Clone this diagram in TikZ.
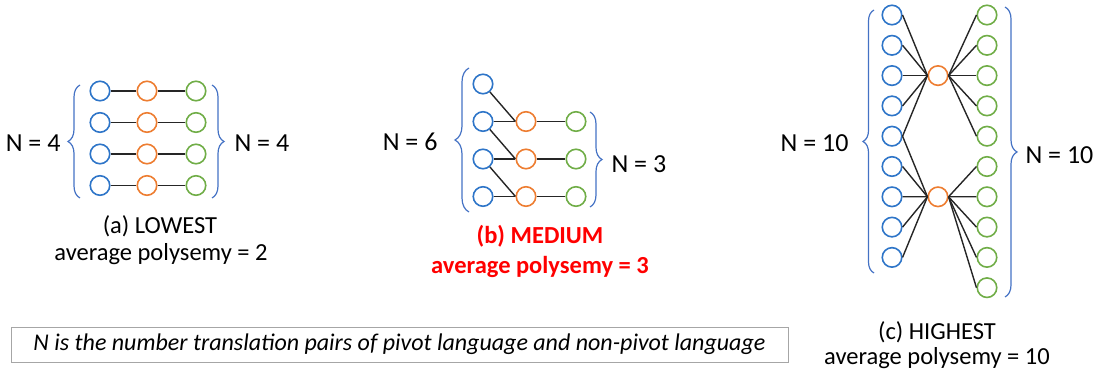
\documentclass[tikz,border=0pt]{standalone}
\usepackage{fontspec}
\setmainfont{Carlito}
\usepackage{xcolor}
\usetikzlibrary{decorations.pathreplacing}
\definecolor{pv_blue}{RGB}{46, 117, 200}
\definecolor{pv_orange}{RGB}{237, 125, 49}
\definecolor{pv_green}{RGB}{112, 173, 71}
\definecolor{pv_brace}{RGB}{68, 114, 196}
\definecolor{pv_red}{RGB}{255, 0, 0}
\begin{document}
\begin{tikzpicture}[
        x=1pt, y=-1pt,
        word/.style={circle, line width=1.6pt, minimum size=19.5pt, inner sep=0pt},
        src/.style={word, draw=pv_blue},
        piv/.style={word, draw=pv_orange},
        tgt/.style={word, draw=pv_green},
        link/.style={draw=black!85, line width=1.4pt},
        brc/.style={decorate, decoration={brace, amplitude=#1},
                    draw=pv_brace, line width=1.2pt},
        lbl/.style={font=\fontsize{26}{30}\selectfont},
        subcap/.style={font=\fontsize{24.5}{28}\selectfont},
      ]
        \useasboundingbox (0,0) rectangle (1098,379);
        % (a) lowest
        \foreach \i/\y in {1/91, 2/122.5, 3/154, 4/185.5} {
          \node[src] (a-s\i) at (100,\y) {};
          \node[piv] (a-p\i) at (147,\y) {};
          \node[tgt] (a-t\i) at (196,\y) {};
          \draw[link] (a-s\i) -- (a-p\i) -- (a-t\i);
        }
        \draw[brc=12pt] (80,198) -- (80,85);
        \draw[brc=12pt] (212,85) -- (212,198);
        \node[lbl, anchor=east] (a-nl) at (64,143) {N = 4};
        \node[lbl, anchor=west] (a-nr) at (231,143) {N = 4};
        \node[subcap] (a-c1) at (160,226) {(a) LOWEST};
        \node[subcap] (a-c2) at (161,254) {average polysemy = 2};
        % (b) medium
        \foreach \i/\y in {1/84, 2/121.5, 3/159, 4/196.5}
          \node[src] (b-s\i) at (483,\y) {};
        \foreach \i/\y in {1/121.5, 2/159, 3/196.5} {
          \node[piv] (b-p\i) at (526,\y) {};
          \node[tgt] (b-t\i) at (576,\y) {};
          \draw[link] (b-p\i) -- (b-t\i);
        }
        \draw[link] (b-s1) -- (b-p1.west);
        \draw[link] (b-s2) -- (b-p1.west);
        \draw[link] (b-s2) -- (b-p2.west);
        \draw[link] (b-s3) -- (b-p2.west);
        \draw[link] (b-s3) -- (b-p3.west);
        \draw[link] (b-s4) -- (b-p3.west);
        \draw[brc=14pt] (469,212) -- (469,68);
        \draw[brc=12pt] (590,112) -- (590,207);
        \node[lbl, anchor=east] (b-nl) at (441,142) {N = 6};
        \node[lbl, anchor=west] (b-nr) at (608,164) {N = 3};
        \node[subcap, text=pv_red] (b-c1) at (540,236) {\bfseries (b) MEDIUM};
        \node[subcap, text=pv_red] (b-c2) at (540,267) {\bfseries average polysemy = 3};
        % (c) highest
        \foreach \i in {1,...,9}
          \node[src] (c-s\i) at (892,{15+30.3*(\i-1)}) {};
        \foreach \i in {1,...,10}
          \node[tgt] (c-t\i) at (987,{15+30.3*(\i-1)}) {};
        \node[piv] (c-p1) at (938,75.6) {};
        \node[piv] (c-p2) at (938,196.8) {};
        \foreach \i in {1,...,5} {
          \draw[link] (c-s\i.east) -- (c-p1.west);
          \draw[link] (c-p1.east) -- (c-t\i.west);
        }
        \foreach \i in {5,...,9}
          \draw[link] (c-s\i.east) -- (c-p2.west);
        \foreach \i in {6,...,10}
          \draw[link] (c-p2.east) -- (c-t\i.west);
        \draw[brc=11pt] (874,273) -- (874,10);
        \draw[brc=12pt] (1005,7) -- (1005,297);
        \node[lbl, anchor=east] (c-nl) at (852,143) {N = 10};
        \node[lbl, anchor=west] (c-nr) at (1022,155) {N = 10};
        \node[subcap] (c-c1) at (937,332) {(c) HIGHEST};
        \node[subcap] (c-c2) at (937,358) {average polysemy = 10};
        % note
        \node[draw=black!35, line width=0.8pt, minimum width=777pt,
              minimum height=35pt, font=\fontsize{24}{28}\selectfont] (note) at (399.5,344.5)
          {\itshape N is the number translation pairs of pivot language and non-pivot language};
      \end{tikzpicture}
\end{document}
